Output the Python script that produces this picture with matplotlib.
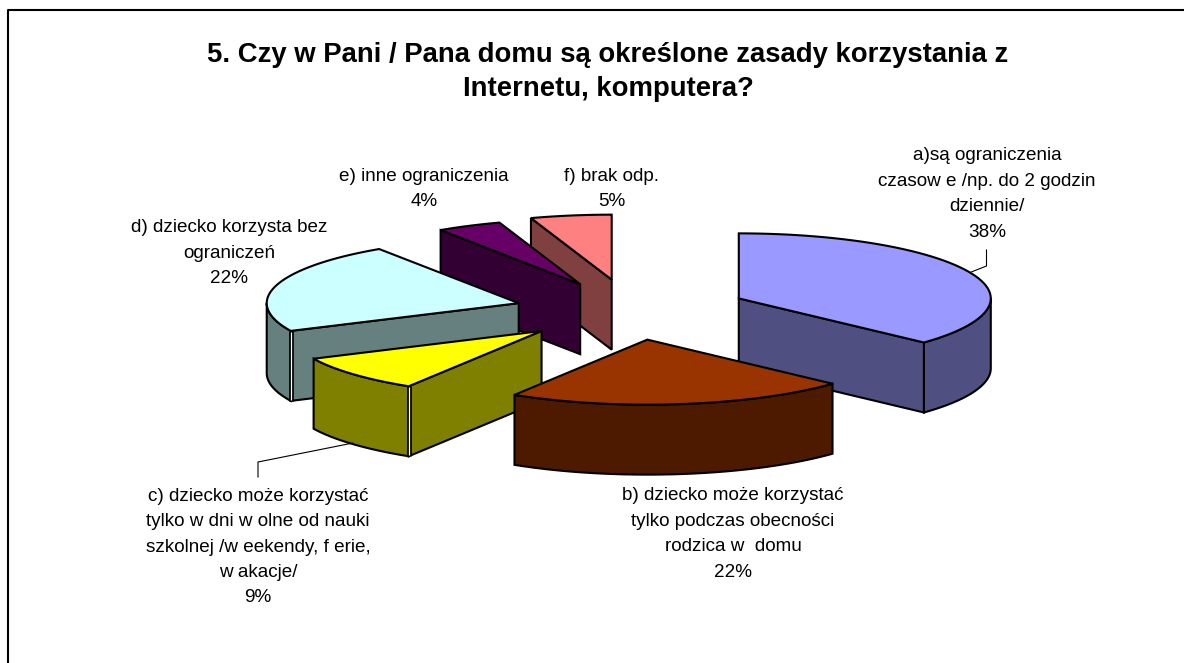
import numpy as np
import matplotlib
matplotlib.use("Agg")
import matplotlib.pyplot as plt
from matplotlib.patches import Polygon

plt.rcParams["font.family"] = ["Liberation Sans", "DejaVu Sans"]

title = "5. Czy w Pani / Pana domu są określone zasady korzystania z\nInternetu, komputera?"
shares = [38, 22, 9, 22, 4, 5]
labels = [
    "a)są ograniczenia\nczasow e /np. do 2 godzin\ndziennie/\n38%",
    "b) dziecko może korzystać\ntylko podczas obecności\nrodzica w  domu\n22%",
    "c) dziecko może korzystać\ntylko w dni w olne od nauki\nszkolnej /w eekendy, f erie,\nw akacje/\n9%",
    "d) dziecko korzysta bez\nograniczeń\n22%",
    "e) inne ograniczenia\n4%",
    "f) brak odp.\n5%",
]
top_colors = ["#9999FF", "#993300", "#FFFF00", "#CCFFFF", "#660066", "#FF8080"]
side_colors = ["#4F4F82", "#4D1A00", "#808000", "#668080", "#330033", "#804040"]
label_xy = [(987, 194), (733, 534), (258, 547), (229, 253), (424, 189), (612, 189)]
draw_order = [5, 4, 0, 3, 2, 1]

# pie geometry in pixels, the axes below run 1:1 with the image
cx, cy = 630, 309.5
rad = 252
squash = 0.258
explode = 117
depth = 70
nudge_x = [0, 10, 4, 0, 0, 0]
nudge_y = [0, 0, 3, 3, 2, 0]

fig = plt.figure(figsize=(11.84, 6.63), dpi=100)
ax = fig.add_axes([0, 0, 1, 1])
ax.set_xlim(0, 1184)
ax.set_ylim(663, 0)
ax.axis("off")

# chart frame, only top and left show up
ax.plot([8, 8, 1184], [663, 10.3, 10.3], color="black", lw=1.5)

edges = np.cumsum([0] + shares) / sum(shares) * 2 * np.pi
# perspective pulls the edges round a bit
shown = edges - np.radians(4.4) * np.sin(edges / 2)


def rim(x0, y0, a0, a1):
    t = np.linspace(a0, a1, 60)
    return np.column_stack([x0 + rad * np.sin(t), y0 - rad * squash * np.cos(t)])


for i in draw_order:
    a0, a1 = shown[i], shown[i + 1]
    mid = (edges[i] + edges[i + 1]) / 2
    x0 = cx + explode * np.sin(mid) + nudge_x[i]
    y0 = cy - explode * squash * np.cos(mid) + nudge_y[i]
    down = np.array([0, depth])
    apex = np.array([x0, y0])

    # cut faces that look at us, then the rim, then the top
    for a, seen in ((a0, np.sin(a0) < 0), (a1, np.sin(a1) > 0)):
        if seen:
            p = rim(x0, y0, a, a)[0]
            face = [apex, p, p + down, apex + down]
            ax.add_patch(Polygon(face, fc=side_colors[i], ec="black", lw=1.5))
    v0, v1 = max(a0, np.pi / 2), min(a1, 3 * np.pi / 2)
    if v1 > v0:
        arc = rim(x0, y0, v0, v1)
        ax.add_patch(Polygon(np.vstack([arc, arc[::-1] + down]), fc=side_colors[i], ec="black", lw=1.5))
        # double edge on the corner where a left cut face meets the rim
        if v0 == a0 and np.sin(a0) < 0:
            p = rim(x0, y0, a0, a0)[0]
            ax.plot([p[0], p[0]], [p[1], p[1] + depth], color="black", lw=3.4, solid_capstyle="butt")
            ax.plot([p[0], p[0]], [p[1] + 1, p[1] + depth - 1], color="white", lw=0.9, solid_capstyle="butt")
    top = np.vstack([apex, rim(x0, y0, a0, a1)])
    ax.add_patch(Polygon(top, fc=top_colors[i], ec="black", lw=1.5))

# leader lines
ax.plot([986.5, 986.5, 970], [250, 266, 272.5], color="black", lw=0.8)
ax.plot([258, 258, 353], [477, 462, 443], color="black", lw=0.8)

ax.text(608, 72, title, ha="center", va="center", fontsize=19.8, fontweight="bold", linespacing=1.36)
for lab, (x, y) in zip(labels, label_xy):
    ax.text(x, y, lab, ha="center", va="center", fontsize=13.6, linespacing=1.65, color="black")

fig.savefig("out.png", dpi=100)
